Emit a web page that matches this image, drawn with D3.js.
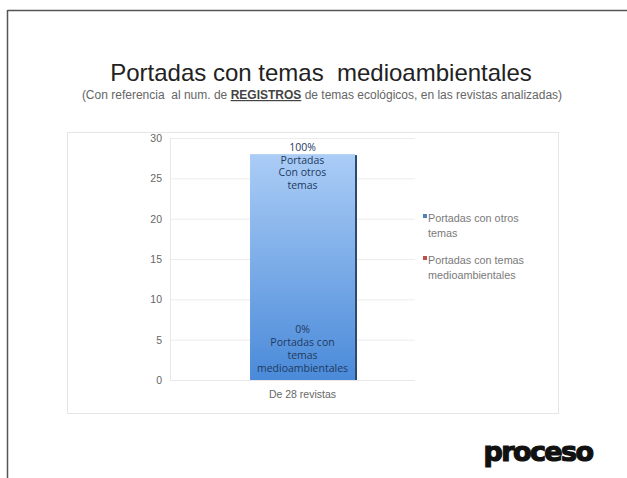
<!DOCTYPE html>
<html><head><meta charset="utf-8">
<script src="https://cdn.jsdelivr.net/npm/d3@7"></script>
<style>body{margin:0;background:#fff}svg{display:block}</style>
</head><body>
<script>
const categories = ["De 28 revistas"];
const seriesNames = ["Portadas con temas medioambientales", "Portadas con otros temas"];
const medioambientales = [0];
const otrosTemas = [28];
const yTicks = [0, 5, 10, 15, 20, 25, 30];
const topLabel = ["100%", "Portadas", "Con otros", "temas"];
const bottomLabel = ["0%", "Portadas con", "temas", "medioambientales"];
const legendItems = [
  {lines:["Portadas con otros","temas"], color:"#4f81bd"},
  {lines:["Portadas con temas","medioambientales"], color:"#c0504d"}
];

const W = 627, H = 478;
const svg = d3.select("body").append("svg").attr("width", W).attr("height", H);

// slide frame
svg.append("line").attr("x1",7.5).attr("x2",627).attr("y1",10.5).attr("y2",10.5).attr("stroke","#555").attr("stroke-width",1.5);
svg.append("line").attr("x1",7.5).attr("x2",7.5).attr("y1",10).attr("y2",478).attr("stroke","#555").attr("stroke-width",1.5);

// title
svg.append("text").attr("x",321).attr("y",81).attr("text-anchor","middle")
  .attr("font-family","Liberation Sans, Arial, sans-serif").attr("font-size",24).attr("fill","#222")
  .attr("xml:space","preserve").text("Portadas con temas  medioambientales");
const sub = svg.append("text").attr("x",322).attr("y",99).attr("text-anchor","middle")
  .attr("font-family","Liberation Sans, Arial, sans-serif").attr("font-size",12).attr("fill","#666")
  .attr("xml:space","preserve");
sub.append("tspan").text("(Con referencia  al num. de ");
sub.append("tspan").attr("font-weight","bold").attr("text-decoration","underline").attr("fill","#444").text("REGISTROS");
sub.append("tspan").text(" de temas ecológicos, en las revistas analizadas)");

// chart box
svg.append("rect").attr("x",67.5).attr("y",132.5).attr("width",491).attr("height",281)
  .attr("fill","none").attr("stroke","#e6e6e6");

const x = d3.scaleBand().domain(categories).range([170, 435]).padding(0.4326);
const y = d3.scaleLinear().domain([0, 30]).range([380, 138]);

// gridlines
svg.append("g").selectAll("line").data(yTicks).join("line")
  .attr("x1",170).attr("x2",415).attr("y1",d=>y(d)+0.5).attr("y2",d=>y(d)+0.5)
  .attr("stroke","#ececec");

// y axis
const yAxis = svg.append("g").attr("transform","translate(170,0)")
  .call(d3.axisLeft(y).tickValues(yTicks).tickSize(0).tickPadding(8));
yAxis.select(".domain").attr("stroke","#e8e8e8");
yAxis.selectAll("text").attr("font-family","Liberation Sans, Arial, sans-serif").attr("font-size",10.5).attr("fill","#666");

// x axis label
const xAxis = svg.append("g").attr("transform","translate(0,380)")
  .call(d3.axisBottom(x).tickSize(0).tickPadding(11));
xAxis.select(".domain").attr("stroke","#e8e8e8").attr("d","M170,0.5H415");
xAxis.selectAll("text").attr("font-family","Liberation Sans, Arial, sans-serif").attr("font-size",10.5).attr("fill","#666");

// gradient
const defs = svg.append("defs");
const g = defs.append("linearGradient").attr("id","blueGrad").attr("x1",0).attr("x2",0).attr("y1",0).attr("y2",1);
g.append("stop").attr("offset","0%").attr("stop-color","#abcdf6");
g.append("stop").attr("offset","100%").attr("stop-color","#4a8ad9");

// stacked data
const stackData = categories.map((c,i)=>({cat:c, m:medioambientales[i], o:otrosTemas[i]}));
const stack = d3.stack().keys(["m","o"])(stackData);
const colors = {m:"#c0504d", o:"url(#blueGrad)"};

stack.forEach(layer=>{
  svg.append("g").selectAll("rect").data(layer).join("rect")
    .attr("x",d=>x(d.data.cat)).attr("width",x.bandwidth())
    .attr("y",d=>y(d[1])).attr("height",d=>y(d[0])-y(d[1]))
    .attr("fill",colors[layer.key]);
  if(layer.key==="o"){
    svg.append("g").selectAll("line").data(layer).join("line")
      .attr("x1",d=>x(d.data.cat)+x.bandwidth()+1).attr("x2",d=>x(d.data.cat)+x.bandwidth()+1)
      .attr("y1",d=>y(d[1])+1).attr("y2",d=>y(d[0]))
      .attr("stroke","#2c4a70").attr("stroke-width",2);
  }
});

// data labels
const cx = x(categories[0]) + x.bandwidth()/2;
const lblFont = "Open Sans, Lato, sans-serif";
const tl = svg.append("text").attr("text-anchor","middle").attr("font-family",lblFont).attr("font-size",10.5).attr("fill","#1f3a5f");
topLabel.forEach((t,i)=>tl.append("tspan").attr("x",cx).attr("y",y(otrosTemas[0])-3+ i*12.5).text(t));
const bl = svg.append("text").attr("text-anchor","middle").attr("font-family",lblFont).attr("font-size",10.5).attr("fill","#1f3a5f");
bottomLabel.forEach((t,i)=>bl.append("tspan").attr("x",cx).attr("y",333 + i*13).text(t));

// legend
const lg = svg.append("g");
legendItems.forEach((it,i)=>{
  const ly = 219 + i*42;
  lg.append("rect").attr("x",423).attr("y",ly-5).attr("width",4).attr("height",4).attr("fill",it.color);
  const t = lg.append("text").attr("font-family","Liberation Sans, Arial, sans-serif").attr("font-size",10.8).attr("fill","#7a7a7a");
  it.lines.forEach((l,j)=>t.append("tspan").attr("x",428).attr("y",ly+3+j*14.5).text(l));
});

// logo
svg.append("text").attr("x",538).attr("y",461).attr("text-anchor","middle")
  .attr("font-family","DejaVu Sans, sans-serif").attr("font-weight","bold").attr("font-size",27)
  .attr("letter-spacing",-1.6).attr("fill","#111").attr("stroke","#111").attr("stroke-width",1.2)
  .text("proceso");
</script>
</body></html>
